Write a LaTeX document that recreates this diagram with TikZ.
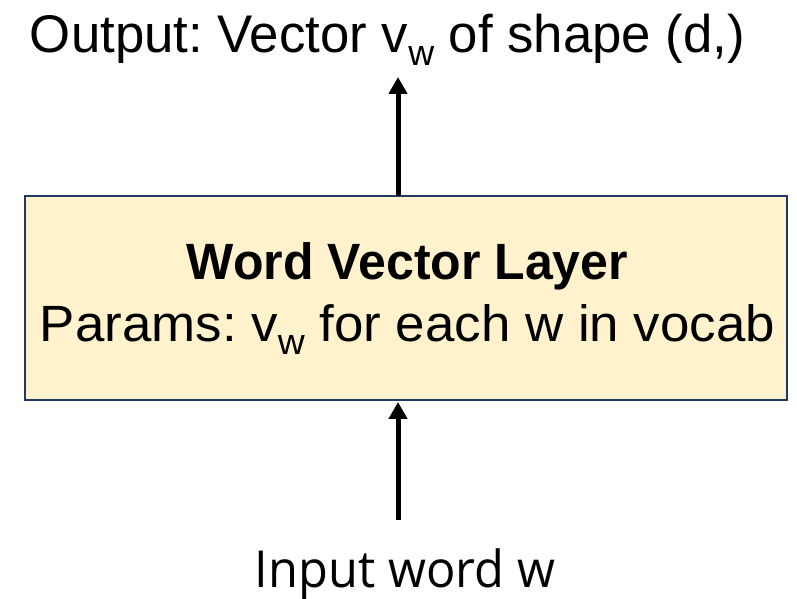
\documentclass[tikz,border=0pt]{standalone}
\usepackage{fontspec}
\usepackage{graphicx}
\setmainfont{Liberation Sans}
\newfontfamily\inputfont{Open Sans}
\usetikzlibrary{arrows.meta}
\definecolor{layerfill}{HTML}{FFF2CC}
\definecolor{layerdraw}{HTML}{203864}
\frenchspacing
% subscript w, set smaller and lowered
\newcommand{\subw}[1]{\raisebox{-0.24em}{\fontsize{#1}{#1}\selectfont w}}
\tikzset{
  layerbox/.style={draw=layerdraw, line width=2.4pt, fill=layerfill},
  flow/.style={line width=5pt, -{Triangle[width=18pt,length=17pt]}},
  txt/.style={inner sep=0pt, anchor=base}
}
\begin{document}
\begin{tikzpicture}[x=1pt,y=1pt]
\useasboundingbox (0,0) rectangle (797,599);
% the layer box
\draw[layerbox] (25,199) rectangle (787,403);
\coordinate (boxtop) at (398,403);
\coordinate (boxbot) at (398,197);
% texts
\node[txt] (out) at (387.5,546)
  {\resizebox{715pt}{\height}{\fontsize{53}{60}\selectfont Output: Vector v\subw{36} of shape (d,)}};
\node[txt] (title) at (407.5,319)
  {\resizebox{441pt}{\height}{\fontsize{51}{60}\selectfont\bfseries Word Vector Layer}};
\node[txt] (params) at (407.5,257)
  {\resizebox{735pt}{\height}{\fontsize{51}{60}\selectfont Params: v\subw{36} for each w in vocab}};
\node[txt] (in) at (405,12)
  {\resizebox{300pt}{\height}{\inputfont\fontsize{51}{60}\selectfont Input word w}};
\coordinate (outtip) at (398,522);
\coordinate (instart) at (398,79);
% connectors
\draw[flow] (boxtop) -- (outtip);
\draw[flow] (instart) -- (boxbot);
\end{tikzpicture}
\end{document}
